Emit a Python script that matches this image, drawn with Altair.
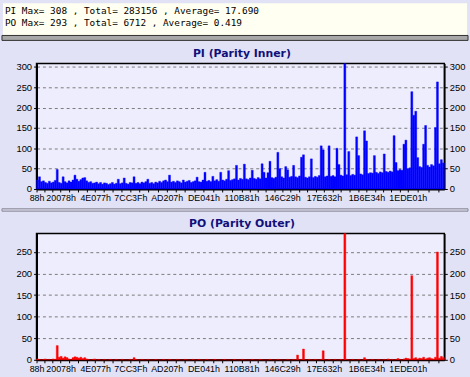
import altair as alt
import pandas as pd

# ---------------- data ----------------
header_lines = [
    "PI Max= 308 , Total= 283156 , Average= 17.690",
    "PO Max= 293 , Total= 6712 , Average= 0.419",
]
pi_title = ["PI (Parity Inner)"]
po_title = ["PO (Parity Outer)"]

x_tick_labels = ["88h", "20078h", "4E077h", "7CC3Fh", "AD207h", "DE041h",
                 "110B81h", "146C29h", "17E632h", "1B6E34h", "1EDE01h"]
pi_y_ticks = [0, 50, 100, 150, 200, 250, 300]
po_y_ticks = [0, 50, 100, 150, 200, 250]
PI_MAX = 308
PO_MAX = 293
LBA_END = 2222000

pi_values = [
    22, 30, 18, 20, 16, 14, 19, 15, 17, 21,
    48, 16, 14, 30, 18, 15, 20, 17, 22, 34,
    24, 19, 23, 27, 28, 20, 16, 18, 14, 15,
    17, 13, 16, 12, 15, 14, 11, 13, 16, 12,
    14, 24, 13, 15, 27, 14, 12, 16, 15, 30,
    14, 16, 13, 17, 15, 18, 24, 14, 16, 13,
    17, 15, 19, 16, 20, 22, 18, 34, 17, 19,
    16, 20, 18, 15, 22, 17, 19, 21, 16, 18,
    20, 29, 18, 17, 22, 41, 19, 21, 18, 31,
    20, 23, 19, 41, 22, 20, 24, 45, 21, 23,
    25, 58, 22, 26, 24, 61, 25, 23, 27, 46,
    26, 24, 28, 25, 62, 41, 27, 40, 68, 28,
    26, 29, 90, 50, 30, 27, 55, 47, 29, 31,
    58, 30, 28, 32, 78, 84, 29, 27, 30, 74,
    28, 31, 29, 33, 106, 96, 30, 32, 106, 31,
    33, 30, 100, 60, 34, 32, 308, 35, 92, 33,
    36, 34, 128, 82, 37, 35, 143, 118, 38, 40,
    39, 82, 41, 38, 42, 40, 86, 43, 41, 44,
    42, 131, 65, 45, 48, 46, 110, 120, 50, 52,
    239, 181, 191, 77, 55, 53, 110, 156, 58, 54,
    60, 57, 151, 263, 62, 72, 64,
]

po_values = [
    2, 1, 0, 1, 2, 0, 1, 0, 2, 1,
    33, 6, 8, 4, 7, 5, 2, 1, 5, 7,
    6, 4, 6, 3, 5, 2, 1, 0, 1, 2,
    0, 1, 0, 0, 1, 0, 0, 1, 0, 0,
    1, 0, 0, 1, 0, 0, 0, 1, 0, 5,
    1, 0, 0, 1, 0, 0, 1, 0, 0, 0,
    1, 0, 0, 0, 1, 0, 0, 1, 0, 0,
    0, 1, 0, 0, 0, 1, 0, 0, 0, 1,
    0, 0, 1, 0, 0, 0, 1, 0, 0, 0,
    1, 0, 0, 0, 0, 1, 0, 0, 0, 0,
    1, 0, 0, 0, 1, 0, 0, 0, 0, 1,
    0, 0, 0, 1, 0, 0, 0, 0, 1, 0,
    0, 0, 1, 0, 0, 0, 0, 1, 0, 0,
    1, 0, 11, 0, 1, 25, 0, 0, 1, 0,
    0, 1, 0, 0, 1, 21, 0, 0, 1, 0,
    0, 1, 0, 0, 1, 0, 293, 1, 0, 0,
    1, 0, 0, 1, 0, 0, 5, 1, 0, 0,
    1, 0, 0, 1, 0, 0, 1, 0, 2, 0,
    1, 0, 1, 3, 1, 0, 2, 4, 3, 2,
    195, 3, 5, 2, 4, 3, 6, 2, 4, 5,
    3, 2, 6, 250, 4, 8, 5,
]

# ---------------- table ----------------
N = len(pi_values)
step = LBA_END / N
df = pd.DataFrame({
    "lba": [i * step for i in range(N)],
    "lba2": [(i + 1) * step for i in range(N)],
    "pi": pi_values,
    "po": po_values,
})

major = [int(s[:-1], 16) for s in x_tick_labels]
minor = []
for a, b in zip(major[:-1], major[1:]):
    k = max(1, round((b - a) / 48000))
    minor += [a + (b - a) * j / k for j in range(1, k)]
gap = (major[-1] - major[-2]) / 4
v = major[-1] + gap
while v < LBA_END:
    minor.append(v)
    v += gap
all_ticks = sorted(major + minor)
label_expr = " : ".join(
    f"datum.value == {m} ? '{s}'" for m, s in zip(major, x_tick_labels)
) + " : ''"

LABEL_FONT = "Liberation Sans"
W, H1, H2 = 413, 127, 128
BG = "#E2E2F6"

x_axis = alt.Axis(values=all_ticks, labelExpr=label_expr, grid=False,
                  tickSize=3, tickColor="black", domainColor="black",
                  domainWidth=2, labelFont=LABEL_FONT, labelFontSize=9,
                  labelColor="black", labelPadding=2, title=None,
                  labelOverlap=False, labelFlush=False)


def one(v):
    return pd.DataFrame({"t": [v]})


def panel(col, ymax, yticks, color, title, H, top):
    xs = alt.X("lba:Q", scale=alt.Scale(domain=[0, LBA_END], nice=False, zero=False),
               axis=x_axis)
    ysc = alt.Scale(domain=[0, ymax], nice=False, zero=True)
    common = dict(values=yticks, title=None, tickSize=3, tickColor="black",
                  labelFont=LABEL_FONT, labelFontSize=9.5, labelColor="black",
                  labelPadding=2, domainColor="black", labelFlush=False)
    bars = alt.Chart(df).mark_bar(color=color, stroke=color, strokeWidth=0.4).encode(
        x=xs, x2="lba2",
        y=alt.Y(f"{col}:Q", scale=ysc,
                axis=alt.Axis(orient="left", grid=True, gridDash=[3, 3],
                              gridColor="#7a7a7a", gridWidth=1, domainWidth=2, **common)),
        y2=alt.datum(0),
    )
    right = alt.Chart(df).mark_bar(opacity=0).encode(
        x=xs, x2="lba2",
        y=alt.Y(f"{col}:Q", scale=ysc,
                axis=alt.Axis(orient="right", grid=False, domainWidth=1.5, **common)),
        y2=alt.datum(0),
    )
    ttl = alt.Chart(pd.DataFrame({"t": title})).mark_text(
        font="DejaVu Sans", fontSize=11, fontWeight="bold", color="#10107A",
        align="center", baseline="middle").encode(
        text="t:N", x=alt.value(208), y=alt.value(-10))
    layers = [bars, right, ttl]
    if top:
        band = alt.Chart(one(0)).mark_rect(fill="#FFFFF2").encode(
            x=alt.value(-34), x2=alt.value(436), y=alt.value(-61), y2=alt.value(-29))
        sep = alt.Chart(one(0)).mark_rect(fill="#A8A8A8", stroke="#303030",
                                          strokeWidth=1).encode(
            x=alt.value(-35), x2=alt.value(437), y=alt.value(-28.5), y2=alt.value(-23.5))
        t1 = alt.Chart(pd.DataFrame({"t": header_lines[:1]})).mark_text(
            font="DejaVu Sans Mono", fontSize=9.5, align="left", baseline="middle",
            color="black").encode(text="t:N", x=alt.value(-32), y=alt.value(-53))
        t2 = alt.Chart(pd.DataFrame({"t": header_lines[1:]})).mark_text(
            font="DejaVu Sans Mono", fontSize=9.5, align="left", baseline="middle",
            color="black").encode(text="t:N", x=alt.value(-32), y=alt.value(-41))
        layers = [band, sep, t1, t2] + layers
    else:
        sep = alt.Chart(one(0)).mark_rect(fill="#CFCFDF", stroke="#8C8C9C",
                                          strokeWidth=1).encode(
            x=alt.value(-35), x2=alt.value(437), y=alt.value(-25), y2=alt.value(-22.5))
        layers = [sep] + layers
    return alt.layer(*layers).resolve_scale(y="independent").properties(width=W, height=H)


top = panel("pi", PI_MAX, pi_y_ticks, "#0000FF", pi_title, H1, True)
bottom = panel("po", PO_MAX, po_y_ticks, "#FF0000", po_title, H2, False)

chart = alt.vconcat(top, bottom, spacing=45, bounds="flush").properties(
    padding=0, background=BG
).configure_view(stroke="black", strokeWidth=1.5, fill="#EDEDFD")

chart.save("out.html", embed_options={"renderer": "svg", "actions": False})
